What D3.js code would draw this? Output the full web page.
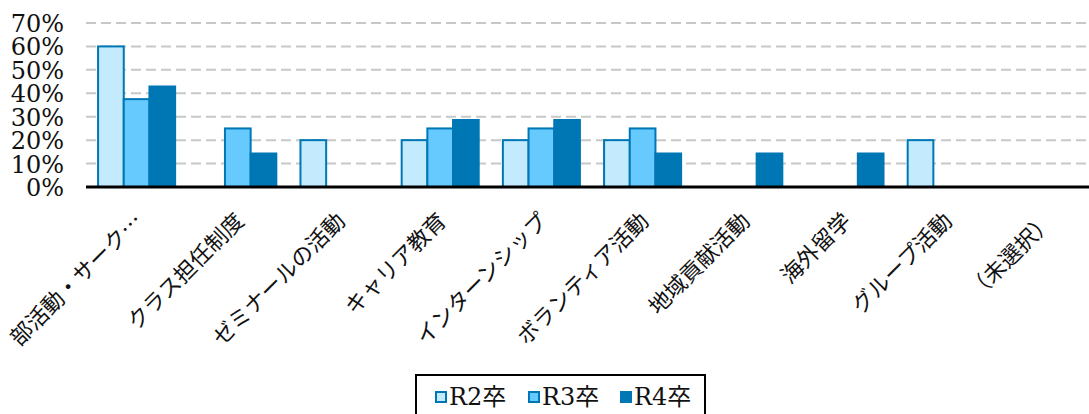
<!DOCTYPE html>
<html><head><meta charset="utf-8">
<script src="https://cdn.jsdelivr.net/npm/d3@7"></script>
<style>body{margin:0;background:#fff;}svg{display:block;}</style>
</head><body>
<svg id="c" width="1089" height="414"></svg>
<script>
const categories = ["部活動・サーク…","クラス担任制度","ゼミナールの活動","キャリア教育","インターンシップ","ボランティア活動","地域貢献活動","海外留学","グループ活動","（未選択）"];
const seriesNames = ["R2卒","R3卒","R4卒"];
const r2 = [60,0,20,20,20,20,0,0,20,0];
const r3 = [37.5,25,0,25,25,25,0,0,0,0];
const r4 = [42.9,14.3,0,28.6,28.6,14.3,14.3,14.3,0,0];
const yTicks = [0,10,20,30,40,50,60,70];
const fills = ["#C4EAFD","#66CAFF","#0077B5"];
const strokes = ["#0077B5","#0077B5","#0077B5"];

const svg = d3.select("#c");
const x0 = d3.scaleBand().domain(categories).range([86,1098]).padding(0);
const x1 = d3.scaleBand().domain(seriesNames).range([0,x0.bandwidth()]).paddingInner(0).paddingOuter(0.47);
const y = d3.scaleLinear().domain([0,70]).range([187,23]);

// grid
svg.append("g").selectAll("line").data(yTicks.filter(d=>d>0)).join("line")
  .attr("x1",86).attr("x2",1089).attr("y1",d=>y(d)).attr("y2",d=>y(d))
  .attr("stroke","#c8c8c8").attr("stroke-width",2).attr("stroke-dasharray","10,5");

// y labels
svg.append("g").selectAll("text").data(yTicks).join("text")
  .attr("x",64).attr("y",d=>y(d)+9).attr("text-anchor","end")
  .attr("font-family","'DejaVu Serif', serif").attr("font-size",24).attr("fill","#111")
  .text(d=>d+"%");

// bars
const data = [r2,r3,r4];
data.forEach((vals,si)=>{
  svg.append("g").selectAll("rect").data(vals.map((v,i)=>({c:categories[i],v})).filter(d=>d.v>0)).join("rect")
    .attr("x",d=>x0(d.c)+x1(seriesNames[si]))
    .attr("y",d=>y(d.v))
    .attr("width",x1.bandwidth())
    .attr("height",d=>y(0)-y(d.v))
    .attr("fill",fills[si]).attr("stroke",strokes[si]).attr("stroke-width",2);
});

// axis line
svg.append("line").attr("x1",86).attr("x2",1089).attr("y1",y(0)).attr("y2",y(0))
  .attr("stroke","#000").attr("stroke-width",3);

// x labels
svg.append("g").selectAll("text").data(categories).join("text")
  .attr("transform",d=>`translate(${x0(d)+x0.bandwidth()/2+2},${y(0)+30}) rotate(-45)`)
  .attr("text-anchor","end").attr("dy","0.35em")
  .attr("font-family","'Noto Sans CJK JP', sans-serif").attr("font-size",22).attr("fill","#111")
  .text(d=>d);

// legend
const lg = svg.append("g");
lg.append("rect").attr("x",416).attr("y",375).attr("width",289).attr("height",50)
  .attr("fill","#fff").attr("stroke","#000").attr("stroke-width",2);
const lx = [435,528,620];
seriesNames.forEach((s,i)=>{
  lg.append("rect").attr("x",lx[i]+1).attr("y",392).attr("width",10).attr("height",10)
    .attr("fill",fills[i]).attr("stroke",strokes[i]).attr("stroke-width",2);
  lg.append("text").attr("x",lx[i]+14).attr("y",405)
    .attr("font-family","'DejaVu Serif','Noto Sans CJK JP', serif").attr("font-size",24).attr("fill","#111")
    .text(s);
});
</script>
</body></html>
